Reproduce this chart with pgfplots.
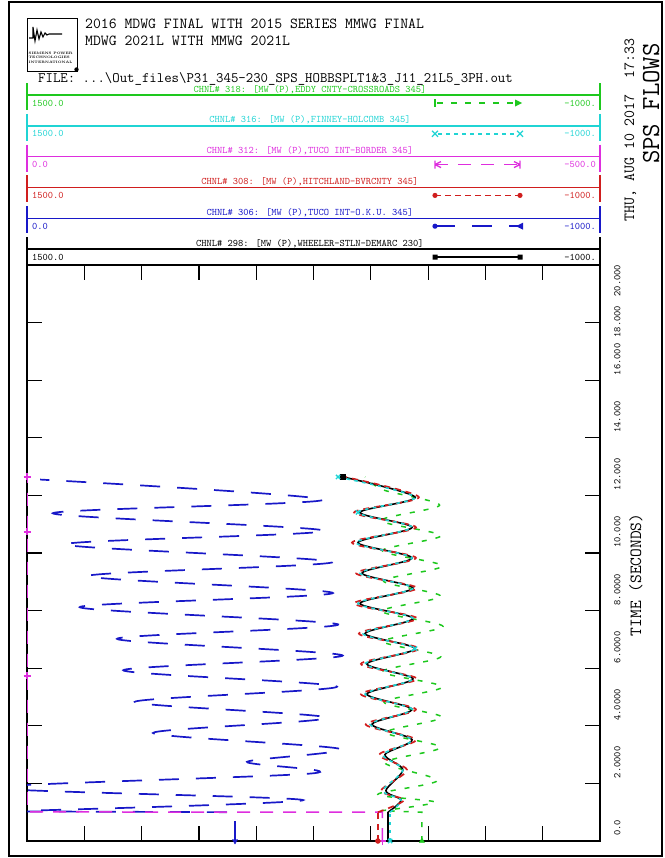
\documentclass[border=0pt]{standalone}
\usepackage{fontspec}
\usepackage{pgfplots}
\usepackage{pgfplotstable}
\pgfplotsset{compat=1.18}

\definecolor{chG}{HTML}{1EC81E}
\definecolor{chC}{HTML}{20D4D4}
\definecolor{chM}{HTML}{DE2EDE}
\definecolor{chR}{HTML}{D01E1E}
\definecolor{chB}{HTML}{1818C8}

\newcommand{\mono}[1]{\fontsize{#1}{#1}\selectfont\ttfamily}

% time (s), MW
\pgfplotstableread{
t mw
0 -75
1.0 -75
1.42 -132
1.75 -66
2.47 -140
3.0 -62
3.52 -180
4.05 -5
4.57 -180
5.1 17
5.63 -184
6.15 17
6.68 -193
7.2 25
7.73 -184
8.25 47
8.78 -184
9.3 38
9.83 -180
10.36 56
10.89 -180
11.41 47
11.94 -193
12.64 121
}\chblack

\pgfplotstableread{
t mw
0 -31
1.0 -31
1.42 -145
1.75 -45
2.47 -158
3.0 -36
3.52 -197
4.05 22
4.57 -197
5.1 43
5.63 -202
6.15 43
6.68 -210
7.2 52
7.73 -202
8.25 73
8.78 -202
9.3 64
9.83 -197
10.36 82
10.89 -197
11.41 73
11.94 -210
12.64 113
}\chred

\pgfplotstableread{
t mw
0 -84
1.0 -84
1.42 -132
1.75 -53
2.47 -140
3.0 -53
3.52 -180
4.05 3
4.57 -180
5.1 25
5.63 -184
6.15 25
6.68 -193
7.2 34
7.73 -184
8.25 56
8.78 -184
9.3 47
9.83 -180
10.36 65
10.89 -180
11.41 56
11.94 -193
12.64 143
}\chcyan

\pgfplotstableread{
t mw
0 -223
1.0 -223
1.05 -45
1.35 -280
1.62 -31
2.1 -290
2.72 -62
3.25 -305
3.77 -66
4.3 -310
4.82 -58
5.35 -312
5.88 -50
6.4 -305
6.93 -55
7.45 -315
7.98 -48
8.5 -305
9.03 -55
9.55 -312
10.08 -50
10.6 -305
11.13 -45
11.66 -300
12.19 -55
12.64 25
}\chgreen

\pgfplotstableread{
t mw
0 -363
1.0 -363
1.03 40
1.42 -482
1.85 60
2.35 -499
2.75 -384
3.2 -546
3.75 -220
4.28 -524
4.83 -188
5.36 -541
5.93 -168
6.44 -551
7.02 -157
7.52 -543
8.12 -92
8.61 -534
9.2 -106
9.69 -534
10.3 -66
10.77 -520
11.38 -45
11.85 -517
12.55 -23
}\chblue

\pgfplotstableread{
t mw
0 -310
1.0 -310
1.01 0
5.73 0
10.73 0
12.64 0
}\chmag

% channel header box: yc, colour, label, left value, right value
\newcommand{\chbox}[5]{%
  \draw[#2, line width=1.6bp] (27,#1-6) -- (27,#1+21) (600,#1-6) -- (600,#1+21);
  \draw[#2, line width=1.4bp] (27,#1+6) -- (600,#1+6);
  \node[#2, anchor=base, inner sep=0pt, font=\mono{10bp}] at (310,#1+3) {#3};
  \node[#2, anchor=base west, inner sep=0pt, font=\mono{10bp}] at (32,#1+17) {#4};
  \node[#2, anchor=base east, inner sep=0pt, font=\mono{10bp}] at (596,#1+17) {#5};
}

\begin{document}
\begin{tikzpicture}
\path[use as bounding box] (0,0) rectangle (665bp,-858bp);

\begin{axis}[
    at={(27bp,-841bp)}, anchor=south west,
    width=573bp, height=576bp, scale only axis,
    xmin=0, xmax=10, ymin=0, ymax=20,
    xtick={1,...,9}, xticklabels={},
    ytick={0,2,...,20},
    yticklabels={0.0,2.0000,4.0000,6.0000,8.0000,10.000,12.000,14.000,16.000,{\hspace*{-20bp}18.000},{\makebox[0pt][r]{20.000\hspace*{5bp}}}},
    xtick pos=both, ytick pos=both,
    yticklabel pos=right,
    yticklabel shift=14bp,
    yticklabel style={rotate=90, anchor=north west, inner xsep=5bp, inner ysep=0pt, font=\mono{10bp}},
    ylabel={TIME (SECONDS)},
    ylabel style={at={(axis description cs:1.0716,0.462)}, anchor=base, inner sep=0pt, font=\mono{17bp}},
    tick align=inside,
    major tick length=15bp,
    major tick style={line width=1.2bp, black},
    axis line style={line width=1.4bp},
]
% green 318
\addplot[chG, line width=1.5bp, dash pattern=on 5bp off 9bp, skip coords between index={3}{100}]
    table[x expr={(1500-\thisrow{mw})/250}, y=t] {\chgreen};
\addplot[chG, line width=1.5bp, dash pattern=on 5bp off 9bp, smooth, skip coords between index={0}{2}]
    table[x expr={(1500-\thisrow{mw})/250}, y=t] {\chgreen};
% blue 306
\addplot[chB, line width=1.7bp, dash pattern=on 20bp off 17bp, skip coords between index={3}{100}]
    table[x expr={-\thisrow{mw}/100}, y=t] {\chblue};
\addplot[chB, line width=1.7bp, dash pattern=on 20bp off 17bp, smooth, skip coords between index={0}{2}]
    table[x expr={-\thisrow{mw}/100}, y=t] {\chblue};
% magenta 312
\addplot[chM, line width=1.5bp, dash pattern=on 13bp off 10bp, mark=+, mark size=3.5bp,
    mark indices={1,4,5,6}, mark options={solid, line width=1.3bp}]
    table[x expr={-\thisrow{mw}/50}, y=t] {\chmag};
% black 298
\addplot[black, line width=1.6bp, skip coords between index={2}{100}]
    table[x expr={(1500-\thisrow{mw})/250}, y=t] {\chblack};
\addplot[black, line width=1.6bp, smooth, skip coords between index={0}{1}]
    table[x expr={(1500-\thisrow{mw})/250}, y=t] {\chblack};
% red 308
\addplot[chR, line width=1.7bp, dash pattern=on 6bp off 5bp, skip coords between index={2}{100}]
    table[x expr={(1500-\thisrow{mw})/250}, y=t] {\chred};
\addplot[chR, line width=1.7bp, dash pattern=on 6bp off 5bp, smooth, skip coords between index={0}{1}]
    table[x expr={(1500-\thisrow{mw})/250}, y=t] {\chred};
% cyan 316
\addplot[chC, line width=1.6bp, dash pattern=on 3.5bp off 4.5bp, skip coords between index={2}{100}]
    table[x expr={(1500-\thisrow{mw})/250}, y=t] {\chcyan};
\addplot[chC, line width=1.6bp, dash pattern=on 3.5bp off 4.5bp, smooth, skip coords between index={0}{1}]
    table[x expr={(1500-\thisrow{mw})/250}, y=t] {\chcyan};

% channel markers
\addplot[only marks, chG, mark=triangle*, mark size=3bp, mark indices={1}]
    table[x expr={(1500-\thisrow{mw})/250}, y=t] {\chgreen};
\addplot[only marks, chB, mark=triangle*, mark size=3bp, mark indices={1}, mark options={rotate=180}]
    table[x expr={-\thisrow{mw}/100}, y=t] {\chblue};
\addplot[only marks, chR, mark=*, mark size=2.5bp, mark indices={1}]
    table[x expr={(1500-\thisrow{mw})/250}, y=t] {\chred};
\addplot[only marks, black, mark=square*, mark size=2.5bp, mark indices={24}]
    table[x expr={(1500-\thisrow{mw})/250}, y=t] {\chblack};
\addplot[only marks, chC, mark=x, mark size=3bp, mark indices={1,13,22,24}, mark options={line width=1.4bp}]
    table[x expr={(1500-\thisrow{mw})/250}, y=t] {\chcyan};
\end{axis}

\begin{scope}[x=1bp,y=-1bp]
\draw[line width=1.2bp] (9,2) rectangle (662,856);
% logo
\draw[line width=1bp] (27,18) rectangle (77,71);
\draw[line width=1.1bp] (29,38) -- (33,38) -- (33,27) -- (35,41) -- (37,30) -- (39,39) -- (41,32) -- (43,37) -- (45,33) -- (47,35) -- (49,34) -- (62,34);
\node[anchor=north west, inner sep=0pt, align=left, font=\fontsize{3.4bp}{4.4bp}\selectfont\bfseries] at (28.5,52) {SIEMENS POWER\\TECHNOLOGIES\\INTERNATIONAL};
\fill (76.5,69.5) circle (2.2bp);
% titles
\node[anchor=base west, inner sep=0pt, font=\mono{15.3bp}] at (85,28) {2016 MDWG FINAL WITH 2015 SERIES MMWG FINAL};
\node[anchor=base west, inner sep=0pt, font=\mono{15.3bp}] at (85,45) {MDWG 2021L WITH MMWG 2021L};
\node[anchor=base west, inner sep=0pt, font=\mono{14.4bp}] at (38,82) {FILE: ...\textbackslash Out\_files\textbackslash P31\_345-230\_SPS\_HOBBSPLT1\&3\_J11\_21L5\_3PH.out};
\node[rotate=90, anchor=base west, inner sep=0pt, font=\mono{15.5bp}] at (634,222) {THU, AUG 10 2017~~17:33};
\node[rotate=90, anchor=base west, inner sep=0pt, font=\mono{26bp}] at (659,164) {SPS FLOWS};

% channel boxes
\chbox{89}{chG}{CHNL\# 318: [MW (P),EDDY CNTY-CROSSROADS 345]}{1500.0}{-1000.}
\chbox{119.8}{chC}{CHNL\# 316: [MW (P),FINNEY-HOLCOMB 345]}{1500.0}{-1000.}
\chbox{150.6}{chM}{CHNL\# 312: [MW (P),TUCO INT-BORDER 345]}{0.0}{-500.0}
\chbox{181.4}{chR}{CHNL\# 308: [MW (P),HITCHLAND-BVRCNTY 345]}{1500.0}{-1000.}
\chbox{212.2}{chB}{CHNL\# 306: [MW (P),TUCO INT-O.K.U. 345]}{0.0}{-1000.}
\chbox{243}{black}{CHNL\# 298: [MW (P),WHEELER-STLN-DEMARC 230]}{1500.0}{-1000.}

% line samples
\draw[chG, line width=1.4bp, dash pattern=on 6bp off 8bp] (437,103) -- (516,103);
\draw[chG, line width=1.4bp] (435,99) -- (435,107);
\fill[chG] (522,103) -- (515,99.5) -- (515,106.5) -- cycle;

\draw[chC, line width=1.4bp, dash pattern=on 4bp off 4bp] (438,133.8) -- (517,133.8);
\draw[chC, line width=1.3bp] (432,130.8) -- (438,136.8) (432,136.8) -- (438,130.8)
    (517,130.8) -- (523,136.8) (517,136.8) -- (523,130.8);

\draw[chM, line width=1.4bp, dash pattern=on 13bp off 10bp] (435,164.6) -- (520,164.6);
\draw[chM, line width=1.3bp] (435,160.6) -- (435,168.6) (520,160.6) -- (520,168.6)
    (435,164.6) -- (441,161.6) (435,164.6) -- (441,167.6)
    (520,164.6) -- (514,161.6) (520,164.6) -- (514,167.6);

\draw[chR, line width=1.4bp, dash pattern=on 6bp off 4bp] (435,195.4) -- (520,195.4);
\fill[chR] (435,195.4) circle (2.6bp) (520,195.4) circle (2.6bp);

\draw[chB, line width=1.6bp, dash pattern=on 20bp off 17bp] (435,226.2) -- (520,226.2);
\fill[chB] (435,226.2) circle (2.6bp);
\fill[chB] (516,226.2) -- (523,222.7) -- (523,229.7) -- cycle;

\draw[black, line width=1.6bp] (435,257) -- (520,257);
\fill[black] (432.5,254.5) rectangle (437.5,259.5) (517.5,254.5) rectangle (522.5,259.5);
\end{scope}
\end{tikzpicture}
\end{document}
